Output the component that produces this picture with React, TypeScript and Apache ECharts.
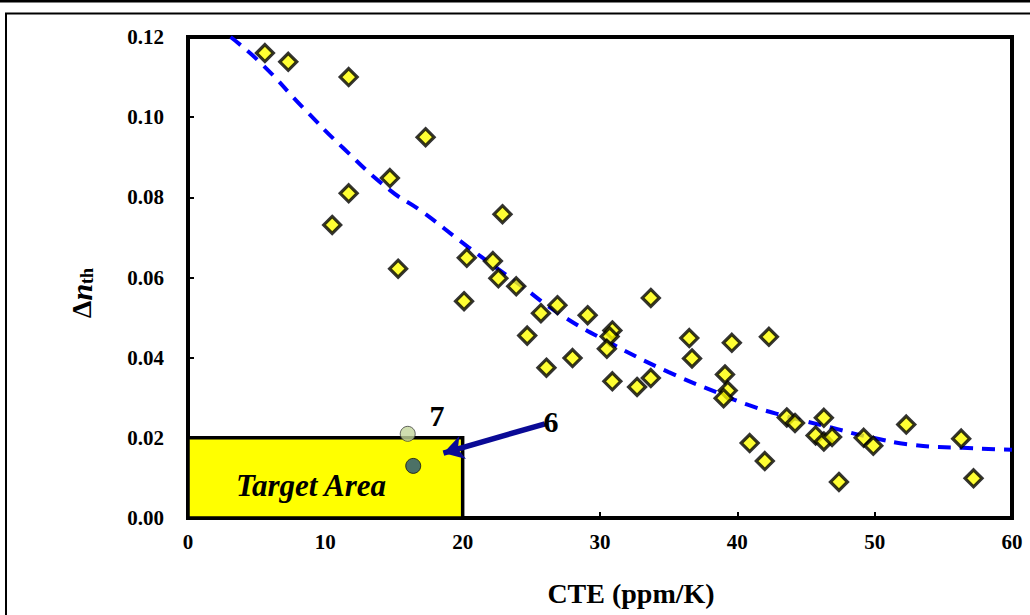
import React, { useEffect, useRef } from "react";
import * as echarts from "echarts";

// Measured data points (CTE in ppm/K, Δn_th)
const cteValues = [
  5.6, 7.3, 11.7, 17.3, 14.7, 11.7, 10.5, 15.3, 22.9, 20.3, 22.2, 22.6, 23.9, 20.1,
  26.9, 25.7, 29.1, 24.7, 30.9, 30.7, 30.5, 33.7, 26.1, 28.0, 30.9, 32.7, 33.7, 36.5,
  36.7, 39.6, 42.3, 39.1, 39.3, 39.0, 40.9, 42.0, 43.6, 44.2, 45.7, 46.3, 46.3, 46.9,
  47.4, 49.2, 49.9, 52.3, 56.3, 57.2,
];
const dnValues = [
  0.116, 0.1138, 0.110, 0.095, 0.0848, 0.081, 0.0731, 0.0622, 0.0758, 0.0649, 0.0641, 0.0598, 0.0578, 0.0541,
  0.0531, 0.0511, 0.0506, 0.0455, 0.0468, 0.0453, 0.0422, 0.0549, 0.0375, 0.0399, 0.0341, 0.0327, 0.0349, 0.0449,
  0.0398, 0.0437, 0.0452, 0.0358, 0.0318, 0.0299, 0.0187, 0.0142, 0.0251, 0.0237, 0.0206, 0.0250, 0.0191, 0.0202,
  0.0090, 0.0200, 0.0180, 0.0233, 0.0198, 0.0099,
];

// Trend curve
const trendCte = [3.1, 5.3, 8.4, 11.3, 14.7, 16.9, 20.4, 24.0, 27.2, 31.0, 35.0, 38.6, 40.8, 43.2, 46.9, 49.6, 52.9, 56.4, 60];
const trendDn = [0.12, 0.1135, 0.1023, 0.0923, 0.0818, 0.0768, 0.0676, 0.0586, 0.0506, 0.0432, 0.0364, 0.0312, 0.0282, 0.0257, 0.0225, 0.0202, 0.0182, 0.0175, 0.017];

// Highlighted samples
const sample7 = [16.0, 0.021];
const sample6 = [16.4, 0.013];

// Target area bounds and arrow
const targetArea = { cteMax: 20, dnMax: 0.02 };
const arrowFrom = [26.0, 0.0235];
const arrowTo = [18.6, 0.0162];

const xTicks = [0, 10, 20, 30, 40, 50, 60];
const yTicks = [0, 0.02, 0.04, 0.06, 0.08, 0.1, 0.12];

const FONT = "'Liberation Serif', 'Times New Roman', serif";

export default function App() {
  const ref = useRef<HTMLDivElement>(null);
  useEffect(() => {
    if (!ref.current) return;
    const chart = echarts.init(ref.current, undefined, { renderer: "svg" });
    const scatterData = cteValues.map((c, i) => [c, dnValues[i]]);
    const trendData = trendCte.map((c, i) => [c, trendDn[i]]);
    chart.setOption({
      animation: false,
      backgroundColor: "#fff",
      grid: {
        left: 188,
        top: 37,
        right: 18,
        bottom: 97,
        show: true,
        borderColor: "#000",
        borderWidth: 4,
        backgroundColor: "transparent",
      },
      xAxis: {
        type: "value",
        min: xTicks[0],
        max: xTicks[xTicks.length - 1],
        interval: 10,
        axisLine: { show: false },
        axisTick: { show: true, inside: true, length: 6, lineStyle: { color: "#000", width: 2 } },
        splitLine: { show: false },
        axisLabel: { fontFamily: FONT, fontWeight: "bold", fontSize: 21, color: "#000", margin: 13 },
      },
      yAxis: {
        type: "value",
        min: yTicks[0],
        max: yTicks[yTicks.length - 1],
        interval: 0.02,
        axisLine: { show: false },
        axisTick: { show: true, inside: true, length: 6, lineStyle: { color: "#000", width: 2 } },
        splitLine: { show: false },
        axisLabel: {
          fontFamily: FONT,
          fontWeight: "bold",
          fontSize: 21,
          color: "#000",
          margin: 24,
          formatter: (v: number) => v.toFixed(2),
        },
      },
      graphic: [
        { type: "rect", shape: { x: 0, y: 0, width: 1030, height: 2.5 }, style: { fill: "#000" }, silent: true },
        {
          type: "rect",
          shape: { x: 6, y: 13.5, width: 1100, height: 700 },
          style: { fill: "none", stroke: "#000", lineWidth: 2 },
          silent: true,
        },
        {
          type: "text",
          x: 81,
          y: 293,
          rotation: Math.PI / 2,
          style: {
            text: "{a|Δ}{b|n}{c|th}",
            align: "center",
            verticalAlign: "middle",
            rich: {
              a: { fontFamily: FONT, fontWeight: "bold", fontSize: 28, fill: "#000" },
              b: { fontFamily: FONT, fontWeight: "bold", fontStyle: "italic", fontSize: 30, fill: "#000" },
              c: { fontFamily: FONT, fontWeight: "bold", fontSize: 18, fill: "#000", padding: [12, 0, 0, 0] },
            },
          },
        },
        {
          type: "text",
          x: 631,
          y: 593,
          style: {
            text: "CTE (ppm/K)",
            fontFamily: FONT,
            fontWeight: "bold",
            fontSize: 28,
            fill: "#000",
            align: "center",
            verticalAlign: "middle",
          },
        },
        {
          type: "text",
          x: 311,
          y: 485,
          z: 10,
          style: {
            text: "Target Area",
            fontFamily: FONT,
            fontWeight: "bold",
            fontStyle: "italic",
            fontSize: 31,
            fill: "#000",
            align: "center",
            verticalAlign: "middle",
          },
        },
        {
          type: "text",
          x: 437,
          y: 415,
          z: 10,
          style: {
            text: "7",
            fontFamily: FONT,
            fontWeight: "bold",
            fontSize: 30,
            fill: "#000",
            align: "center",
            verticalAlign: "middle",
          },
        },
        {
          type: "text",
          x: 551,
          y: 421,
          z: 10,
          style: {
            text: "6",
            fontFamily: FONT,
            fontWeight: "bold",
            fontSize: 30,
            fill: "#000",
            align: "center",
            verticalAlign: "middle",
          },
        },
      ],
      series: [
        {
          type: "scatter",
          data: [],
          z: 1,
          markArea: {
            silent: true,
            itemStyle: { color: "#ffff00", borderColor: "#000", borderWidth: 3.5, opacity: 1 },
            label: { show: false },
            data: [[{ coord: [0, 0] }, { coord: [targetArea.cteMax, targetArea.dnMax] }]],
          },
        },
        {
          type: "line",
          data: trendData,
          smooth: true,
          showSymbol: false,
          symbol: "none",
          z: 3,
          lineStyle: { color: "#0000ff", width: 4, type: [13, 9] },
        },
        {
          type: "scatter",
          data: scatterData,
          symbol: "diamond",
          symbolSize: 17,
          z: 4,
          itemStyle: { color: "#ffff00", borderColor: "#000", borderWidth: 3.2 },
        },
        {
          type: "scatter",
          data: [sample7],
          symbol: "circle",
          symbolSize: 15,
          z: 5,
          itemStyle: { color: "#c3d69b", borderColor: "#404040", borderWidth: 1 },
        },
        {
          type: "scatter",
          data: [sample6],
          symbol: "circle",
          symbolSize: 15,
          z: 5,
          itemStyle: { color: "#1f4e80", borderColor: "#111", borderWidth: 1 },
        },
        {
          type: "line",
          data: [],
          z: 6,
          markLine: {
            silent: true,
            symbol: ["none", "arrow"],
            symbolSize: [18, 20],
            label: { show: false },
            lineStyle: { color: "#0a0a96", width: 5.5, type: "solid", opacity: 1 },
            itemStyle: { color: "#0a0a96" },
            emphasis: { disabled: true },
            data: [[{ coord: arrowFrom }, { coord: arrowTo }]],
          },
        },
      ],
    });
    return () => chart.dispose();
  }, []);
  return (
    <div
      ref={ref}
      style={{ position: "fixed", left: 0, top: 0, width: 1030, height: 615, background: "#fff" }}
    />
  );
}
